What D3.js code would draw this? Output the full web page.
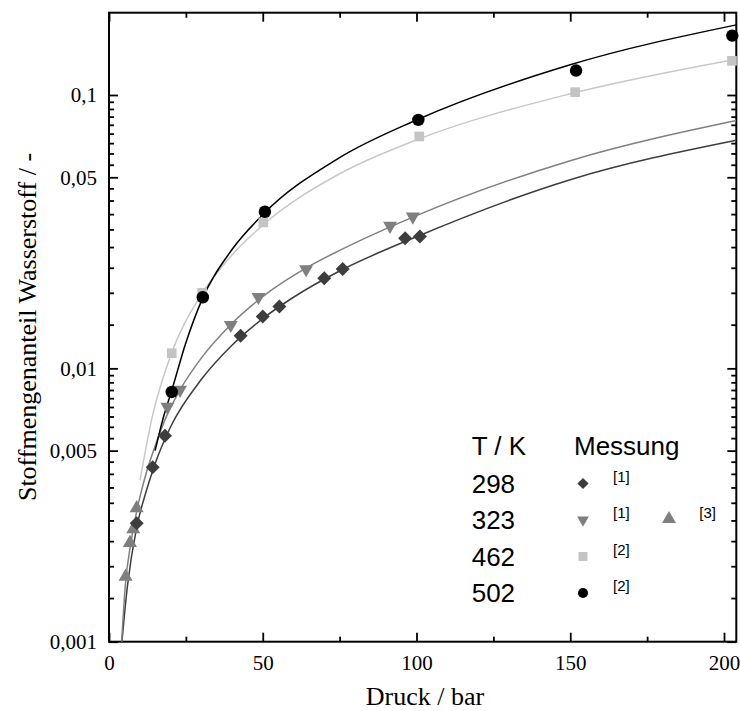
<!DOCTYPE html>
<html>
<head>
<meta charset="utf-8">
<script src="https://cdn.jsdelivr.net/npm/d3@7"></script>
<style>
  html, body { margin: 0; padding: 0; background: #fff; }
  svg { display: block; }
</style>
</head>
<body>
<svg id="chart" width="740" height="711"></svg>
<script>
// Measured hydrogen mole fractions (pressure in bar)
const pressure298 = [9.0, 14.2, 18.2, 42.8, 50.0, 55.4, 70.0, 76.0, 96.3, 101.1];
const fraction298 = [0.00271, 0.00435, 0.00567, 0.01317, 0.01546, 0.01682, 0.02136, 0.02311, 0.02992, 0.03033];

const pressure323a = [19.0, 23.1, 39.6, 48.6, 64.1, 91.4, 98.8];
const fraction323a = [0.00724, 0.00834, 0.01441, 0.01825, 0.02305, 0.0332, 0.0359];

const pressure323b = [5.4, 6.8, 7.9, 9.0];
const fraction323b = [0.00173, 0.0023, 0.00258, 0.00308];

const pressure462 = [20.4, 30.3, 50.2, 100.9, 151.6, 202.6];
const fraction462 = [0.01136, 0.0189, 0.0342, 0.0705, 0.1024, 0.1333];

const pressure502 = [20.4, 30.5, 50.7, 100.6, 151.9, 202.7];
const fraction502 = [0.0082, 0.0182, 0.0374, 0.0811, 0.1228, 0.1649];

// Correlation curves (nodes along each fitted isotherm)
const fitP298 = [4.2, 6, 9, 12, 15, 20, 30, 40, 50, 60, 75, 100, 150, 204];
const fitX298 = [0.001, 0.0016, 0.00262, 0.00352, 0.00448, 0.0061, 0.0091, 0.01215, 0.0152, 0.0182, 0.0227, 0.0303, 0.049, 0.0683];

const fitP323 = [4.1, 5.4, 7, 9, 12, 15, 19, 23, 30, 40, 50, 65, 75, 100, 150, 204];
const fitX323 = [0.001, 0.00165, 0.00226, 0.003, 0.0041, 0.0052, 0.0068, 0.0083, 0.0109, 0.0146, 0.0183, 0.0236, 0.027, 0.0362, 0.0575, 0.0806];

const fitP462 = [10.1, 14, 20, 30, 40, 50, 75, 100, 150, 204];
const fitX462 = [0.0039, 0.0066, 0.0111, 0.0186, 0.026, 0.0334, 0.0515, 0.0685, 0.101, 0.1352];

const fitP502 = [15, 17.5, 20.4, 25, 30.5, 40, 50, 75, 100, 150, 204];
const fitX502 = [0.005, 0.0065, 0.0083, 0.0124, 0.0181, 0.0272, 0.0365, 0.059, 0.081, 0.129, 0.1805];

// Axis ticks
const xMajorTicks = [0, 50, 100, 150, 200];
const xMinorTicks = [25, 75, 125, 175];
const yMajorTicks = [0.001, 0.005, 0.01, 0.05, 0.1];
const yTickLabels = ["0,001", "0,005", "0,01", "0,05", "0,1"];

// Legend entries
const legendTemps = ["298", "323", "462", "502"];
const legendRefs = ["[1]", "[1]", "[2]", "[2]"];

const serif = "'Liberation Serif', 'Times New Roman', serif";
const sans = "'Liberation Sans', Arial, sans-serif";

const plot = { left: 109, right: 736.3, top: 12.7, bottom: 641.7 };

const x = d3.scaleLinear().domain([0, 204]).range([plot.left, plot.right]);
const y = d3.scaleLog().domain([0.001, 0.2]).range([plot.bottom, plot.top]);

const svg = d3.select("#chart");

svg.append("defs").append("clipPath").attr("id", "plotClip")
  .append("rect")
  .attr("x", plot.left).attr("y", plot.top)
  .attr("width", plot.right - plot.left).attr("height", plot.bottom - plot.top);

// Minor y ticks: eight evenly spaced values between neighbouring majors
const yMinorTicks = [];
for (let i = 0; i < yMajorTicks.length - 1; i++) {
  const a = yMajorTicks[i], b = yMajorTicks[i + 1];
  for (let k = 1; k <= 8; k++) yMinorTicks.push(a + (b - a) * k / 9);
}

function styleAxis(g) {
  g.select(".domain").remove();
  g.selectAll(".tick line").attr("stroke", "#000").attr("stroke-width", 1.8);
  g.selectAll(".tick text").attr("font-family", serif).attr("font-size", 21).attr("fill", "#000");
}

const majorLen = 9, minorLen = 5;

// Bottom axis
svg.append("g").attr("transform", `translate(0,${plot.bottom})`)
  .call(d3.axisBottom(x).tickValues(xMajorTicks).tickSize(-majorLen).tickPadding(13.4).tickFormat(d3.format("d")))
  .call(styleAxis);
svg.append("g").attr("transform", `translate(0,${plot.bottom})`)
  .call(d3.axisBottom(x).tickValues(xMinorTicks).tickSize(-minorLen).tickFormat(""))
  .call(styleAxis);
// Top axis (mirrored ticks)
svg.append("g").attr("transform", `translate(0,${plot.top})`)
  .call(d3.axisTop(x).tickValues(xMajorTicks).tickSize(-majorLen).tickFormat(""))
  .call(styleAxis);
svg.append("g").attr("transform", `translate(0,${plot.top})`)
  .call(d3.axisTop(x).tickValues(xMinorTicks).tickSize(-minorLen).tickFormat(""))
  .call(styleAxis);
// Left axis
svg.append("g").attr("transform", `translate(${plot.left},0)`)
  .call(d3.axisLeft(y).tickValues(yMajorTicks).tickSize(-majorLen).tickPadding(12)
    .tickFormat((d, i) => yTickLabels[i]))
  .call(styleAxis);
svg.append("g").attr("transform", `translate(${plot.left},0)`)
  .call(d3.axisLeft(y).tickValues(yMinorTicks).tickSize(-minorLen).tickFormat(""))
  .call(styleAxis);
// Right axis (mirrored ticks)
svg.append("g").attr("transform", `translate(${plot.right},0)`)
  .call(d3.axisRight(y).tickValues(yMajorTicks).tickSize(-majorLen).tickFormat(""))
  .call(styleAxis);
svg.append("g").attr("transform", `translate(${plot.right},0)`)
  .call(d3.axisRight(y).tickValues(yMinorTicks).tickSize(-minorLen).tickFormat(""))
  .call(styleAxis);

// Frame
svg.append("rect")
  .attr("x", plot.left).attr("y", plot.top)
  .attr("width", plot.right - plot.left).attr("height", plot.bottom - plot.top)
  .attr("fill", "none").attr("stroke", "#000").attr("stroke-width", 2);

// Axis titles
svg.append("text")
  .attr("x", 425).attr("y", 705)
  .attr("text-anchor", "middle")
  .attr("font-family", serif).attr("font-size", 26)
  .text("Druck / bar");

svg.append("text")
  .attr("transform", "translate(36,327) rotate(-90)")
  .attr("text-anchor", "middle")
  .attr("font-family", serif).attr("font-size", 26)
  .text("Stoffmengenanteil Wasserstoff / -");

// Fitted curves
const line = d3.line()
  .x(d => x(d[0]))
  .y(d => y(d[1]))
  .curve(d3.curveMonotoneX);

const curves = [
  { p: fitP298, v: fitX298, color: "#3d3d3d" },
  { p: fitP323, v: fitX323, color: "#808080" },
  { p: fitP462, v: fitX462, color: "#c8c8c8" },
  { p: fitP502, v: fitX502, color: "#000000" }
];

const curveG = svg.append("g").attr("clip-path", "url(#plotClip)");
curves.forEach(c => {
  curveG.append("path")
    .datum(d3.zip(c.p, c.v))
    .attr("d", line)
    .attr("fill", "none")
    .attr("stroke", c.color)
    .attr("stroke-width", 1.5);
});

// Marker shapes
const shapes = {
  diamond: (s) => ({ path: d3.symbol().type(d3.symbolSquare).size(s)(), rot: 45 }),
  down: (s) => ({ path: d3.symbol().type(d3.symbolTriangle).size(s)(), rot: 180 }),
  up: (s) => ({ path: d3.symbol().type(d3.symbolTriangle).size(s)(), rot: 0 }),
  square: (s) => ({ path: d3.symbol().type(d3.symbolSquare).size(s)(), rot: 0 }),
  circle: (s) => ({ path: d3.symbol().type(d3.symbolCircle).size(s)(), rot: 0 })
};

function drawMarkers(g, ps, vs, shape, size, color) {
  const sh = shapes[shape](size);
  g.selectAll(null)
    .data(d3.zip(ps, vs))
    .join("path")
    .attr("d", sh.path)
    .attr("transform", d => `translate(${x(d[0])},${y(d[1])}) rotate(${sh.rot})`)
    .attr("fill", color);
}

const markG = svg.append("g");
drawMarkers(markG, pressure323b, fraction323b, "up", 86, "#7f7f7f");
drawMarkers(markG, pressure323a, fraction323a, "down", 84, "#7f7f7f");
drawMarkers(markG, pressure298, fraction298, "diamond", 98, "#3d3d3d");
drawMarkers(markG, pressure462, fraction462, "square", 94, "#c4c4c4");
drawMarkers(markG, pressure502, fraction502, "circle", 122, "#000000");

// Legend
const legend = svg.append("g");
legend.append("text").attr("x", 471.7).attr("y", 455)
  .attr("font-family", sans).attr("font-size", 26).text("T / K");
legend.append("text").attr("x", 574).attr("y", 455)
  .attr("font-family", sans).attr("font-size", 26).text("Messung");

const rowBase = [492.7, 529.3, 566, 602];
const rowSym = [483.5, 520, 556.5, 593];
const legendShapes = [
  { shape: "diamond", size: 62, color: "#3d3d3d" },
  { shape: "down", size: 60, color: "#7f7f7f" },
  { shape: "square", size: 80, color: "#c4c4c4" },
  { shape: "circle", size: 78, color: "#000000" }
];

legendTemps.forEach((t, i) => {
  legend.append("text").attr("x", 471.7).attr("y", rowBase[i])
    .attr("font-family", sans).attr("font-size", 26).text(t);
  const ls = legendShapes[i];
  const sh = shapes[ls.shape](ls.size);
  legend.append("path").attr("d", sh.path)
    .attr("transform", `translate(583,${rowSym[i]}) rotate(${sh.rot})`)
    .attr("fill", ls.color);
  legend.append("text").attr("x", 613).attr("y", rowSym[i] - 2)
    .attr("font-family", sans).attr("font-size", 15).text(legendRefs[i]);
});

// Second reference for the 323 K isotherm
const upSh = shapes.up(84);
legend.append("path").attr("d", upSh.path)
  .attr("transform", `translate(669,${rowSym[1] - 1})`)
  .attr("fill", "#7f7f7f");
legend.append("text").attr("x", 699.3).attr("y", rowSym[1] - 2)
  .attr("font-family", sans).attr("font-size", 15).text("[3]");
</script>
</body>
</html>
